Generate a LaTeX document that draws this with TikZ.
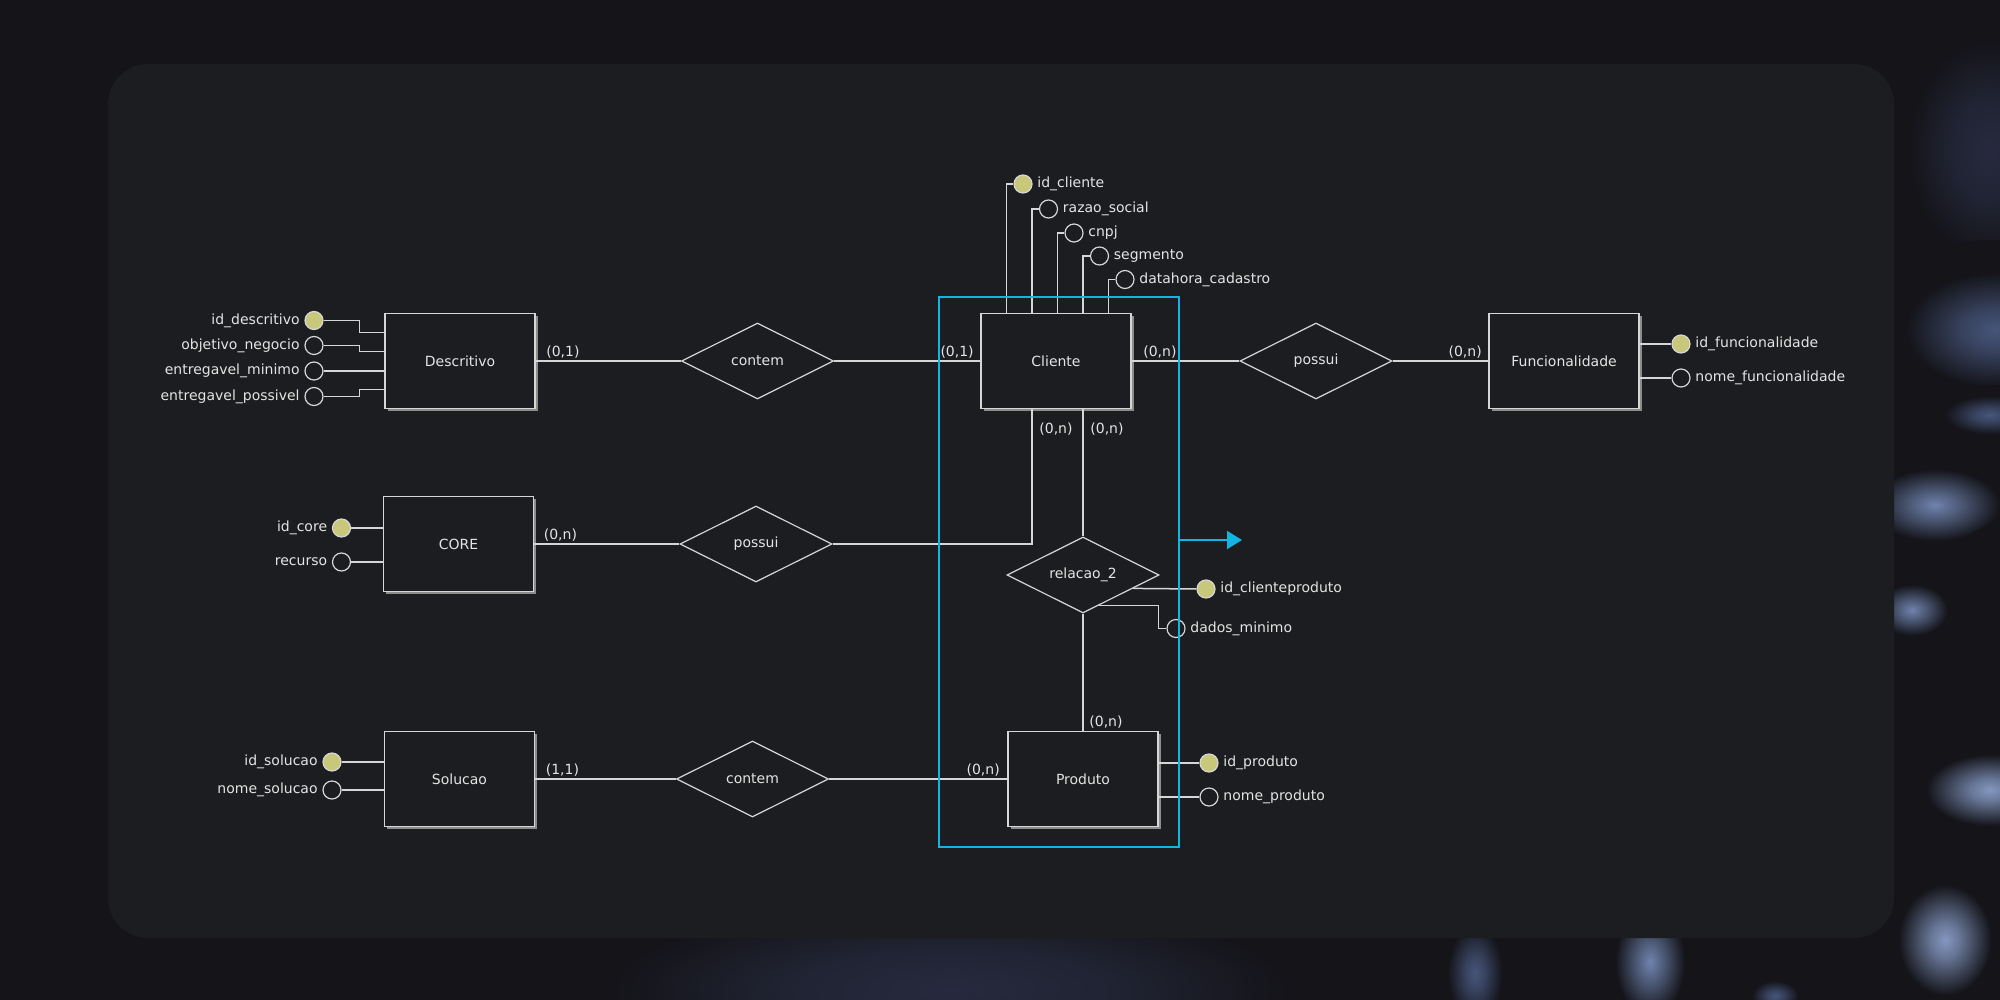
\documentclass[tikz,border=0pt]{standalone}
\usepackage{fontspec}
\setmainfont{DejaVu Sans}
\usetikzlibrary{shapes.geometric, arrows.meta, positioning, calc, shadows}
\definecolor{clrPage}{HTML}{141419}
\definecolor{clrPanel}{HTML}{1C1D20}
\definecolor{clrLine}{HTML}{D6D6D6}
\definecolor{clrText}{HTML}{E4E4E4}
\definecolor{clrShadow}{HTML}{8C8C8C}
\definecolor{clrKey}{HTML}{C8C87A}
\definecolor{clrSel}{HTML}{12B4E2}
\definecolor{clrGlow}{HTML}{6F83AE}
\definecolor{clrGlowHi}{HTML}{8397C0}
\definecolor{clrGlowMid}{HTML}{46557A}
\definecolor{clrHaze}{HTML}{262A3E}
\pgfdeclareradialshading{glowHi}{\pgfpoint{0bp}{0bp}}{color(0bp)=(clrGlowHi); color(5bp)=(clrGlowHi!75!clrPage); color(16bp)=(clrPage); color(50bp)=(clrPage)}
\pgfdeclareradialshading{glow}{\pgfpoint{0bp}{0bp}}{color(0bp)=(clrGlow); color(5bp)=(clrGlow!70!clrPage); color(16bp)=(clrPage); color(50bp)=(clrPage)}
\pgfdeclareradialshading{glowMid}{\pgfpoint{0bp}{0bp}}{color(0bp)=(clrGlowMid); color(6bp)=(clrGlowMid!70!clrPage); color(16bp)=(clrPage); color(50bp)=(clrPage)}
\pgfdeclareradialshading{haze}{\pgfpoint{0bp}{0bp}}{color(0bp)=(clrHaze); color(8bp)=(clrHaze!70!clrPage); color(17bp)=(clrPage); color(50bp)=(clrPage)}

\begin{document}
\begin{tikzpicture}[x=0.5pt, y=-0.5pt,
    entity/.style={rectangle, draw=clrLine, fill=clrPanel, minimum width=75pt, minimum height=47.5pt, line width=0.9pt, font=\fontsize{7}{8.5}\selectfont, text=clrText, drop shadow={shadow xshift=1.3pt, shadow yshift=-1.3pt, fill=clrShadow, opacity=1}},
    relation/.style={diamond, aspect=2, draw=clrLine, fill=clrPanel, minimum width=76pt, minimum height=38pt, inner sep=0pt, line width=0.6pt, font=\fontsize{7}{8.5}\selectfont, text=clrText},
    keyattr/.style={circle, draw=clrLine, fill=clrKey, minimum size=9pt, inner sep=0pt, line width=0.6pt},
    attr/.style={circle, draw=clrLine, fill=clrPanel, minimum size=9pt, inner sep=0pt, line width=0.6pt},
    card/.style={font=\fontsize{7}{8.5}\selectfont, text=clrText, inner sep=0.5pt},
    link/.style={draw=clrLine, line width=0.75pt},
    selbox/.style={rectangle, draw=clrSel, line width=1pt, minimum width=120pt, minimum height=275pt},
    selarrow/.style={-{Triangle[length=7.5pt, width=9pt]}, line width=1pt, clrSel},
    every label/.style={font=\fontsize{7}{8.5}\selectfont, text=clrText, inner sep=1pt},
    label distance=1.2pt,
]

% === Backdrop ===
\useasboundingbox (0,0) rectangle (2000,1000);
\fill[clrPage] (0,0) rectangle (2000,1000);
\begin{scope}
\clip (0,0) rectangle (2000,1000);
\shade[shading=haze] (950,990) ellipse [x radius=250pt, y radius=65pt];
\shade[shading=haze] (1990,150) ellipse [x radius=60pt, y radius=80pt];
\shade[shading=glowMid] (1995,330) ellipse [x radius=70pt, y radius=45pt];
\shade[shading=glowMid] (1990,415) ellipse [x radius=35pt, y radius=15pt];
\shade[shading=glow, rotate around={20:(1935,505)}] (1935,505) ellipse [x radius=50pt, y radius=20pt];
\shade[shading=glow] (1912,610) ellipse [x radius=28pt, y radius=20pt];
\shade[shading=glowHi] (1990,790) ellipse [x radius=50pt, y radius=28pt];
\shade[shading=glowHi, rotate around={60:(1945,940)}] (1945,940) ellipse [x radius=50pt, y radius=24pt];
\shade[shading=glow, rotate around={70:(1650,962)}] (1650,962) ellipse [x radius=45pt, y radius=20pt];
\shade[shading=glowMid, rotate around={80:(1475,975)}] (1475,975) ellipse [x radius=38pt, y radius=18pt];
\shade[shading=glowMid] (1775,996) ellipse [x radius=18pt, y radius=12pt];
\end{scope}
\fill[clrPanel, rounded corners=20pt] (108,64) rectangle (1894,938);

% === Entities ===
\node[entity] (descritivo) at (460,361) {Descritivo};
\node[entity] (core) at (458.5,544) {CORE};
\node[entity] (solucao) at (459.5,779) {Solucao};
\node[entity] (cliente) at (1056,361) {Cliente};
\node[entity] (produto) at (1083,779) {Produto};
\node[entity] (funcionalidade) at (1564,361) {Funcionalidade};

% === Relationships ===
\node[relation] (relDesc) at (757.5,361) {contem};
\node[relation] (relCore) at (756,544) {possui};
\node[relation] (relSol) at (752.5,779) {contem};
\node[relation] (relFunc) at (1316,361) {possui};
\node[relation] (rel2) at (1083,575) {relacao\_2};

% === Relationship lines ===
\draw[link] (descritivo.east) -- (relDesc.west);
\draw[link] (relDesc.east) -- (cliente.west);
\draw[link] (cliente.east) -- (relFunc.west);
\draw[link] (relFunc.east) -- (funcionalidade.west);
\draw[link] (core.east) -- (relCore.west);
\draw[link] (relCore.east) -| ($(cliente.south)+(-24,0)$);
\draw[link] (cliente.south -| rel2.north) -- (rel2.north);
\draw[link] (rel2.south) -- (produto.north);
\draw[link] (solucao.east) -- (relSol.west);
\draw[link] (relSol.east) -- (produto.west);

% === Attributes: Descritivo ===
\node[keyattr, label=left:id\_descritivo] (ad1) at (314,320.5) {};
\node[attr, label=left:objetivo\_negocio] (ad2) at (314,345.5) {};
\node[attr, label=left:entregavel\_minimo] (ad3) at (314,371) {};
\node[attr, label=left:entregavel\_possivel] (ad4) at (314,396.5) {};
\draw[link] (ad1.east) -- ++(36,0) |- ($(descritivo.west)+(0,-28.5)$);
\draw[link] (ad2.east) -- ++(36,0) |- ($(descritivo.west)+(0,-9.5)$);
\draw[link] (ad3.east) -- (ad3.east -| descritivo.west);
\draw[link] (ad4.east) -- ++(36,0) |- ($(descritivo.west)+(0,28.5)$);

% === Attributes: CORE, Solucao ===
\node[keyattr, label=left:id\_core] (acore1) at (341.5,528) {};
\node[attr, label=left:recurso] (acore2) at (341.5,562) {};
\draw[link] (acore1.east) -- (acore1.east -| core.west);
\draw[link] (acore2.east) -- (acore2.east -| core.west);
\node[keyattr, label=left:id\_solucao] (asol1) at (332,762) {};
\node[attr, label=left:nome\_solucao] (asol2) at (332,790) {};
\draw[link] (asol1.east) -- (asol1.east -| solucao.west);
\draw[link] (asol2.east) -- (asol2.east -| solucao.west);

% === Attributes: Cliente ===
\node[keyattr, label=right:id\_cliente] (acli1) at (1023,184) {};
\node[attr, label=right:razao\_social] (acli2) at (1048.5,209) {};
\node[attr, label=right:cnpj] (acli3) at (1074,233) {};
\node[attr, label=right:segmento] (acli4) at (1099.5,256) {};
\node[attr, label=right:datahora\_cadastro] (acli5) at (1125,279.5) {};
\draw[link] ($(cliente.north)+(-49.5,0)$) |- (acli1.west);
\draw[link] ($(cliente.north)+(-24,0)$) |- (acli2.west);
\draw[link] ($(cliente.north)+(1.5,0)$) |- (acli3.west);
\draw[link] ($(cliente.north)+(27,0)$) |- (acli4.west);
\draw[link] ($(cliente.north)+(52.5,0)$) |- (acli5.west);

% === Attributes: Funcionalidade, Produto, relacao_2 ===
\node[keyattr, label=right:id\_funcionalidade] (afun1) at (1681,344) {};
\node[attr, label=right:nome\_funcionalidade] (afun2) at (1681,378) {};
\draw[link] (funcionalidade.east |- afun1) -- (afun1.west);
\draw[link] (funcionalidade.east |- afun2) -- (afun2.west);
\node[keyattr, label=right:id\_produto] (aprod1) at (1209,763) {};
\node[attr, label=right:nome\_produto] (aprod2) at (1209,797) {};
\draw[link] (produto.east |- aprod1) -- (aprod1.west);
\draw[link] (produto.east |- aprod2) -- (aprod2.west);
\node[keyattr, label=right:id\_clienteproduto] (arel1) at (1206,589) {};
\node[attr, label=right:dados\_minimo] (arel2) at (1176,628.5) {};
\draw[link] (rel2.-15.6) -- (arel1.west);
\draw[link] (rel2.-63) -| ([xshift=-4pt]arel2.west) -- (arel2.west);

% === Cardinalities ===
\node[card, anchor=south west] (cd1) at ($(descritivo.east)+(9,-1)$) {(0,1)};
\node[card, anchor=south east] (cd2) at ($(cliente.west)+(-5,-1)$) {(0,1)};
\node[card, anchor=south west] (cd3) at ($(cliente.east)+(10,-1)$) {(0,n)};
\node[card, anchor=south east] (cd4) at ($(funcionalidade.west)+(-5,-1)$) {(0,n)};
\node[card, anchor=south west] (cd5) at ($(core.east)+(8,-1)$) {(0,n)};
\node[card, anchor=west] (cd6) at ($(cliente.south)+(-18,20)$) {(0,n)};
\node[card, anchor=west] (cd7) at ($(cliente.south)+(33,20)$) {(0,n)};
\node[card, anchor=south west] (cd8) at ($(solucao.east)+(9,-1)$) {(1,1)};
\node[card, anchor=south east] (cd9) at ($(produto.west)+(-6,-1)$) {(0,n)};
\node[card, anchor=south west] (cd10) at ($(produto.north)+(5,-1)$) {(0,n)};

% === Selection ===
\node[selbox] (sel) at (1059,572) {};
\coordinate (selTip) at (1242,540);
\draw[selarrow] (sel.east |- selTip) -- (selTip);

\end{tikzpicture}
\end{document}
